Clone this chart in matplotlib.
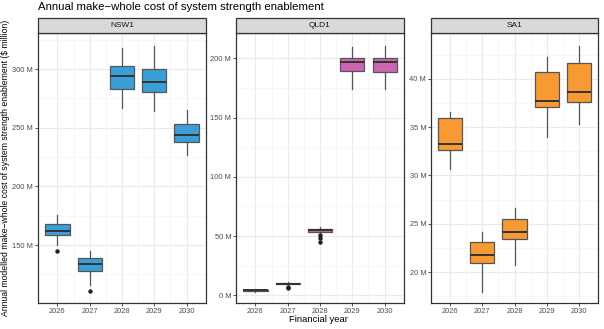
import matplotlib.pyplot as plt
from matplotlib.patches import Rectangle
from matplotlib.ticker import FuncFormatter, MultipleLocator, FixedLocator

plt.rcParams['font.family'] = ['Liberation Sans', 'DejaVu Sans']

years = ["2026", "2027", "2028", "2029", "2030"]
regions = ["NSW1", "QLD1", "SA1"]
colours = {"NSW1": "#3A9FD6", "QLD1": "#CC66B3", "SA1": "#F89A33"}

# box stats per region, $ million
nsw_whislo = [150.0, 116.0, 266.5, 264.2, 226.7]
nsw_q1 = [158.8, 128.1, 282.7, 280.4, 237.8]
nsw_med = [162.2, 133.8, 294.3, 288.9, 243.5]
nsw_q3 = [167.9, 139.0, 302.8, 300.0, 252.9]
nsw_whishi = [175.6, 144.9, 317.6, 319.9, 265.0]
nsw_fliers = [[145.0], [110.8], [], [], []]

qld_whislo = [2.5, 8.8, 52.0, 173.9, 174.4]
qld_q1 = [3.6, 9.4, 53.5, 189.3, 188.5]
qld_med = [4.2, 9.9, 54.8, 196.6, 196.6]
qld_q3 = [4.8, 10.3, 56.0, 200.5, 200.5]
qld_whishi = [5.4, 11.0, 57.5, 209.9, 210.7]
qld_fliers = [[], [6.2, 7.3], [50.8, 48.5, 45.2], [], []]

sa_whislo = [30.65, 17.96, 20.72, 34.0, 35.27]
sa_q1 = [32.62, 20.96, 23.44, 37.04, 37.62]
sa_med = [33.24, 21.75, 24.13, 37.72, 38.62]
sa_q3 = [35.93, 23.1, 25.45, 40.69, 41.62]
sa_whishi = [36.55, 24.13, 26.6, 42.28, 43.42]
sa_fliers = [[], [], [], [], []]

stats_by_region = {
    "NSW1": (nsw_whislo, nsw_q1, nsw_med, nsw_q3, nsw_whishi, nsw_fliers),
    "QLD1": (qld_whislo, qld_q1, qld_med, qld_q3, qld_whishi, qld_fliers),
    "SA1": (sa_whislo, sa_q1, sa_med, sa_q3, sa_whishi, sa_fliers),
}

ylims = {"NSW1": (100.6, 330.7), "QLD1": (-6.5, 221.3), "SA1": (16.8, 44.73)}
ysteps = {"NSW1": 50, "QLD1": 50, "SA1": 5}

W, H = 604, 329
fig = plt.figure(figsize=(W / 100, H / 100), dpi=100)
panel_x = [(38, 206), (236, 404), (431, 598)]
top_px, bottom_px, strip_top = 33, 303, 18

for (x0, x1), reg in zip(panel_x, regions):
    ax = fig.add_axes([x0 / W, 1 - bottom_px / H, (x1 - x0) / W, (bottom_px - top_px) / H])
    wl, q1, med, q3, wh, fl = stats_by_region[reg]
    stats = []
    for i in range(len(years)):
        stats.append(dict(whislo=wl[i], q1=q1[i], med=med[i], q3=q3[i],
                          whishi=wh[i], fliers=fl[i], label=years[i]))
    ax.bxp(stats, positions=range(1, 6), widths=0.75, patch_artist=True,
           showcaps=False,
           boxprops=dict(facecolor=colours[reg], edgecolor="#555555", linewidth=0.9),
           medianprops=dict(color="#333333", linewidth=1.4),
           whiskerprops=dict(color="#555555", linewidth=0.9),
           flierprops=dict(marker="o", markersize=2.2, markerfacecolor="#222222",
                           markeredgecolor="#222222"),
           zorder=3)
    ax.set_xlim(0.4, 5.6)
    ax.set_ylim(*ylims[reg])
    step = ysteps[reg]
    ax.yaxis.set_major_locator(MultipleLocator(step))
    ax.yaxis.set_minor_locator(MultipleLocator(step / 2))
    ax.xaxis.set_minor_locator(FixedLocator([1.5, 2.5, 3.5, 4.5]))
    ax.yaxis.set_major_formatter(FuncFormatter(lambda v, p: f"{v:.0f} M"))
    ax.set_xticks(range(1, 6))
    ax.set_xticklabels(years)
    ax.grid(which="major", color="#EBEBEB", linewidth=0.8, zorder=0)
    ax.grid(which="minor", color="#F4F4F4", linewidth=0.5, zorder=0)
    ax.set_axisbelow(True)
    ax.tick_params(which="major", length=2, width=0.6, color="#333333",
                   labelsize=5.4, labelcolor="#4D4D4D", pad=1.5)
    ax.tick_params(which="minor", length=0)
    for s in ax.spines.values():
        s.set_color("#333333")
        s.set_linewidth(0.9)
    # facet strip
    fig.add_artist(Rectangle((x0 / W, 1 - top_px / H), (x1 - x0) / W, (top_px - strip_top) / H,
                             transform=fig.transFigure, facecolor="#D9D9D9",
                             edgecolor="#333333", linewidth=0.9))
    fig.text((x0 + x1) / 2 / W, 1 - (top_px + strip_top) / 2 / H, reg,
             ha="center", va="center", fontsize=6.0, color="#1A1A1A")

fig.text(38 / W, 1 - 7 / H, "Annual make\u2212whole cost of system strength enablement",
         ha="left", va="center", fontsize=8.2, color="#000000")
fig.text(6 / W, 1 - 168 / H,
         "Annual modelled make\u2212whole cost of system strength enablement ($ million)",
         rotation=90, ha="center", va="center", fontsize=6.2, color="#000000")
fig.text(318 / W, 1 - 320 / H, "Financial year", ha="center", va="center",
         fontsize=6.8, color="#000000")

fig.savefig("out.png", dpi=100, facecolor="white")
